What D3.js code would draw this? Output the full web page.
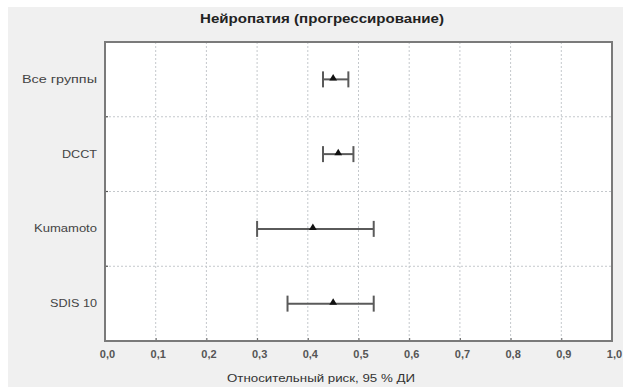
<!DOCTYPE html>
<html>
<head>
<meta charset="utf-8">
<script src="https://cdn.jsdelivr.net/npm/d3@7/dist/d3.min.js"></script>
<style>
  html, body { margin: 0; padding: 0; background: #ffffff; }
  svg { display: block; }
</style>
</head>
<body>
<script>
// Relative risk with 95% CI, by study
const groups = ["Все группы", "DCCT", "Kumamoto", "SDIS 10"];
const riskPoint = [0.45, 0.46, 0.41, 0.45];
const ciLow = [0.43, 0.43, 0.30, 0.36];
const ciHigh = [0.48, 0.49, 0.53, 0.53];
const xTicks = [0, 0.1, 0.2, 0.3, 0.4, 0.5, 0.6, 0.7, 0.8, 0.9, 1.0];
const titleText = "Нейропатия (прогрессирование)";
const xAxisTitle = "Относительный риск, 95 % ДИ";

const W = 623, H = 387;
const margin = { left: 105, right: 11, top: 42, bottom: 46 };
const fontFam = "'Liberation Sans', Arial, sans-serif";
const narrowFam = "'Liberation Sans Narrow', 'Liberation Sans', Arial, sans-serif";

const svg = d3.select("body").append("svg").attr("width", W).attr("height", H);

// panel background
svg.append("rect").attr("x", 8).attr("y", 7).attr("width", W - 8).attr("height", H - 7)
  .attr("fill", "#f0f0f0");

const x = d3.scaleLinear().domain([0, 1]).range([margin.left, W - margin.right]);
const y = d3.scaleBand().domain(groups).range([margin.top, H - margin.bottom]);

// plot area
svg.append("rect")
  .attr("x", x(0)).attr("y", y.range()[0])
  .attr("width", x(1) - x(0)).attr("height", y.range()[1] - y.range()[0])
  .attr("fill", "#ffffff");

// vertical grid
svg.append("g").selectAll("line").data(xTicks.slice(1, -1)).join("line")
  .attr("x1", d => x(d)).attr("x2", d => x(d))
  .attr("y1", y.range()[0]).attr("y2", y.range()[1])
  .attr("stroke", "#c4c8cc").attr("stroke-width", 1).attr("stroke-dasharray", "2,2");

// horizontal separators between groups
svg.append("g").selectAll("line").data(groups.slice(1)).join("line")
  .attr("x1", x(0)).attr("x2", x(1))
  .attr("y1", d => y(d)).attr("y2", d => y(d))
  .attr("stroke", "#c4c8cc").attr("stroke-width", 1).attr("stroke-dasharray", "2,2");

// bottom axis
const xAxis = d3.axisBottom(x).tickValues(xTicks).tickSize(3).tickPadding(6)
  .tickFormat(d => d3.format(".1f")(d).replace(".", ","));
const gx = svg.append("g").attr("transform", `translate(0,${y.range()[1]})`).call(xAxis);
gx.select(".domain").remove();
gx.selectAll(".tick line").attr("stroke", "#666").attr("transform", "translate(0,-3)");
gx.selectAll("text").attr("font-family", narrowFam).attr("font-size", 11)
  .attr("font-weight", "bold").attr("fill", "#555")
  .attr("dx", 2);

// left axis (group labels)
const labelWidths = { "Все группы": 75, "DCCT": 35, "Kumamoto": 63, "SDIS 10": 47 };
const yAxis = d3.axisLeft(y).tickSize(0).tickPadding(8);
const gy = svg.append("g").attr("transform", `translate(${x(0)},0)`).call(yAxis);
gy.select(".domain").remove();
gy.selectAll("text").attr("font-family", fontFam).attr("font-size", 11).attr("fill", "#444")
  .attr("textLength", d => labelWidths[d]).attr("lengthAdjust", "spacingAndGlyphs");

// small ticks at separators on left border
svg.append("g").selectAll("line").data(groups.slice(1)).join("line")
  .attr("x1", x(0)).attr("x2", x(0) + 3)
  .attr("y1", d => y(d)).attr("y2", d => y(d))
  .attr("stroke", "#555").attr("stroke-width", 1.2);

// border
svg.append("rect")
  .attr("x", x(0)).attr("y", y.range()[0])
  .attr("width", x(1) - x(0)).attr("height", y.range()[1] - y.range()[0])
  .attr("fill", "none").attr("stroke", "#7a7a7a").attr("stroke-width", 2);

// error bars
const rows = groups.map((g, i) => ({ g, p: riskPoint[i], lo: ciLow[i], hi: ciHigh[i] }));
const eb = svg.append("g").selectAll("g").data(rows).join("g")
  .attr("transform", d => `translate(0,${y(d.g) + y.bandwidth() / 2})`);
eb.append("line")
  .attr("x1", d => x(d.lo)).attr("x2", d => x(d.hi))
  .attr("y1", 0).attr("y2", 0).attr("stroke", "#5a5a5a").attr("stroke-width", 2);
eb.append("line")
  .attr("x1", d => x(d.lo)).attr("x2", d => x(d.lo))
  .attr("y1", -8).attr("y2", 8).attr("stroke", "#5a5a5a").attr("stroke-width", 2);
eb.append("line")
  .attr("x1", d => x(d.hi)).attr("x2", d => x(d.hi))
  .attr("y1", -8).attr("y2", 8).attr("stroke", "#5a5a5a").attr("stroke-width", 2);
eb.append("path")
  .attr("d", d3.symbol().type(d3.symbolTriangle).size(26))
  .attr("transform", d => `translate(${x(d.p)},-1)`)
  .attr("fill", "#111");

// titles
svg.append("text").attr("x", 322).attr("y", 23)
  .attr("text-anchor", "middle").attr("font-family", fontFam)
  .attr("font-size", 12).attr("font-weight", "bold").attr("fill", "#222")
  .attr("textLength", 244).attr("lengthAdjust", "spacingAndGlyphs")
  .text(titleText);
svg.append("text").attr("x", 321).attr("y", 382)
  .attr("text-anchor", "middle").attr("font-family", fontFam)
  .attr("font-size", 11).attr("fill", "#333")
  .attr("textLength", 188).attr("lengthAdjust", "spacingAndGlyphs")
  .text(xAxisTitle);
</script>
</body>
</html>
